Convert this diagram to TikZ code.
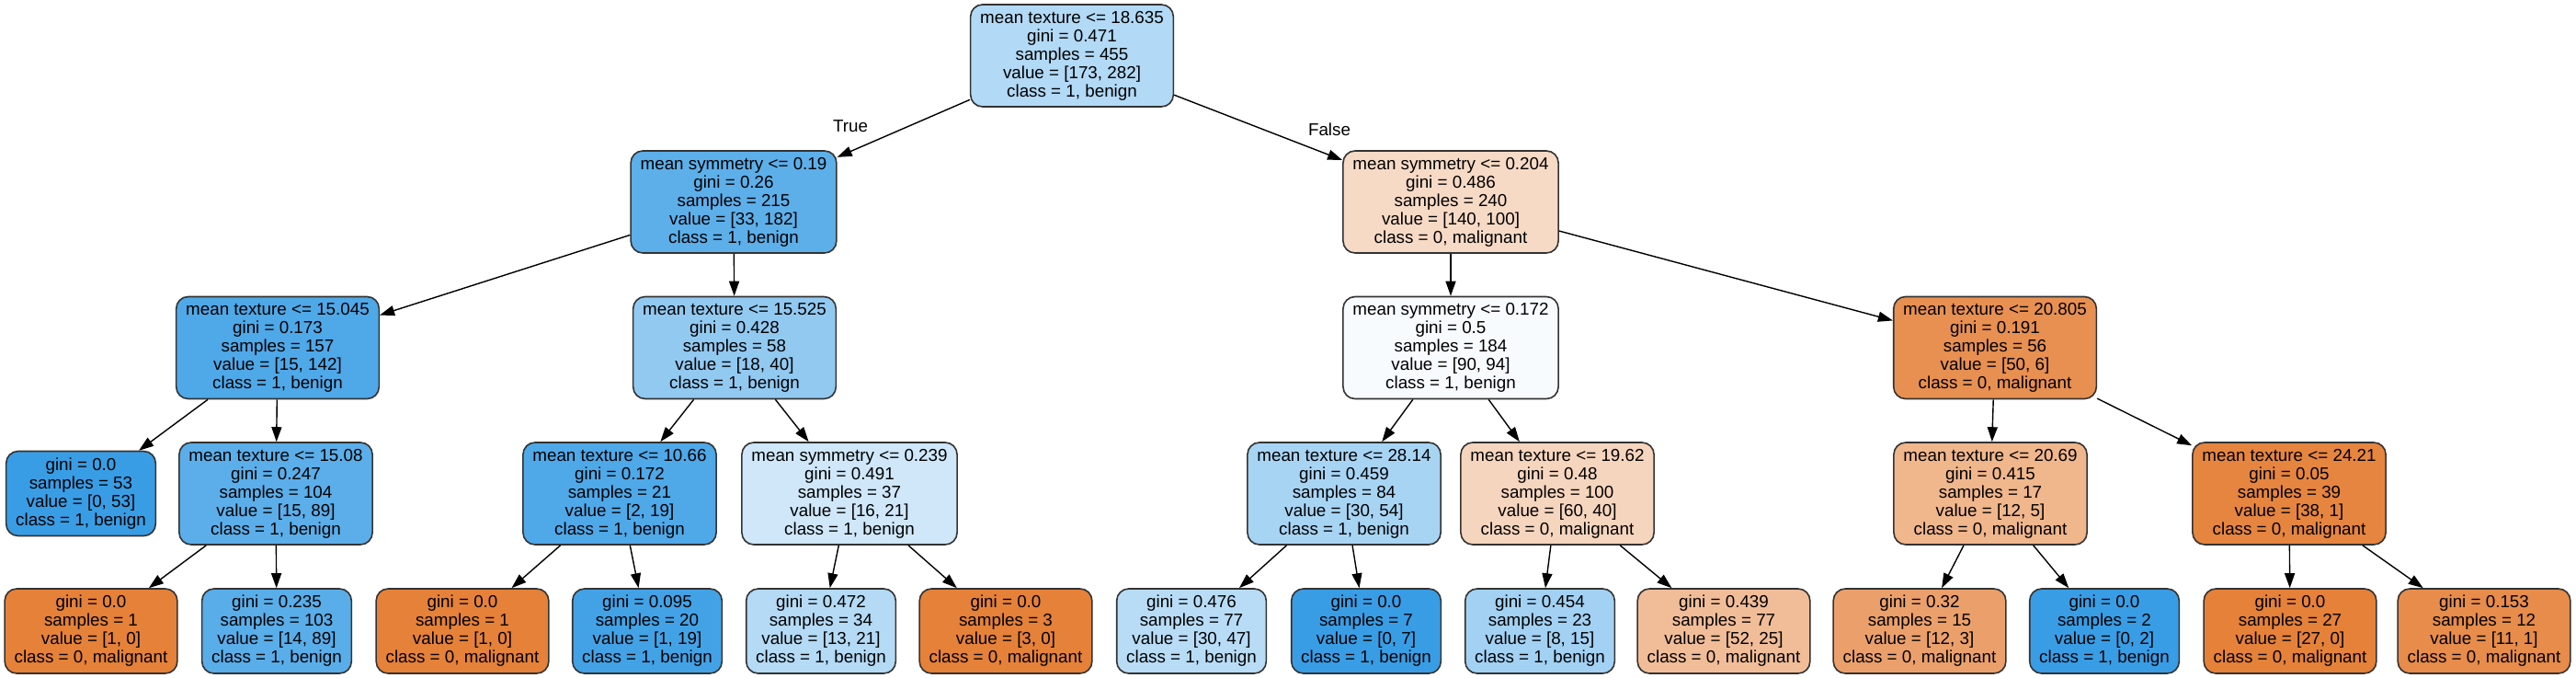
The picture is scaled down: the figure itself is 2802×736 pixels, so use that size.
\documentclass[tikz,border=0pt]{standalone}
\usepackage{fontspec}
\setmainfont{Liberation Sans}
\usetikzlibrary{arrows.meta}
\newcommand{\nodefont}{\fontsize{18.8}{20}\selectfont}
\definecolor{gvblue}{HTML}{399DE5}
\definecolor{gvorange}{HTML}{E58139}
\definecolor{gvborder}{HTML}{333333}
\tikzset{
  box/.style={draw=gvborder, line width=1.6pt, rounded corners=13pt, align=center,
    font=\nodefont, inner xsep=10.5pt, inner ysep=0pt},
  inner/.style={box, minimum height=111pt},
  leaf/.style={box, minimum height=92pt},
  edge/.style={line width=1.4pt, -{Triangle[length=16pt,width=11pt]}},
  elabel/.style={font=\nodefont, inner sep=0pt}
}
\begin{document}
\begin{tikzpicture}[x=1pt,y=-1pt]
\path[use as bounding box, fill=white] (0,0) rectangle (2802,736);
% level 0
\node[inner, fill=gvblue!39] (root) at (1166,60.5) {mean texture <= 18.635\\gini = 0.471\\samples = 455\\value = [173, 282]\\class = 1, benign};
% level 1
\node[inner, fill=gvblue!82] (n1) at (798,219.5) {mean symmetry <= 0.19\\gini = 0.26\\samples = 215\\value = [33, 182]\\class = 1, benign};
\node[inner, fill=gvorange!29] (n8) at (1578,219.5) {mean symmetry <= 0.204\\gini = 0.486\\samples = 240\\value = [140, 100]\\class = 0, malignant};
% level 2
\node[inner, fill=gvblue!89] (n2) at (302,378) {mean texture <= 15.045\\gini = 0.173\\samples = 157\\value = [15, 142]\\class = 1, benign};
\node[inner, fill=gvblue!55] (n5) at (799,378) {mean texture <= 15.525\\gini = 0.428\\samples = 58\\value = [18, 40]\\class = 1, benign};
\node[inner, fill=gvblue!4] (n9) at (1578,378) {mean symmetry <= 0.172\\gini = 0.5\\samples = 184\\value = [90, 94]\\class = 1, benign};
\node[inner, fill=gvorange!88] (n12) at (2170,378) {mean texture <= 20.805\\gini = 0.191\\samples = 56\\value = [50, 6]\\class = 0, malignant};
% level 3
\node[leaf, fill=gvblue!100] (n3) at (88,536.5) {gini = 0.0\\samples = 53\\value = [0, 53]\\class = 1, benign};
\node[inner, fill=gvblue!83] (n4) at (300,536.5) {mean texture <= 15.08\\gini = 0.247\\samples = 104\\value = [15, 89]\\class = 1, benign};
\node[inner, fill=gvblue!89] (n6) at (674,536.5) {mean texture <= 10.66\\gini = 0.172\\samples = 21\\value = [2, 19]\\class = 1, benign};
\node[inner, fill=gvblue!24] (n7) at (924,536.5) {mean symmetry <= 0.239\\gini = 0.491\\samples = 37\\value = [16, 21]\\class = 1, benign};
\node[inner, fill=gvblue!44] (n10) at (1462,536.5) {mean texture <= 28.14\\gini = 0.459\\samples = 84\\value = [30, 54]\\class = 1, benign};
\node[inner, fill=gvorange!33] (n11) at (1694,536.5) {mean texture <= 19.62\\gini = 0.48\\samples = 100\\value = [60, 40]\\class = 0, malignant};
\node[inner, fill=gvorange!58] (n13) at (2165,536.5) {mean texture <= 20.69\\gini = 0.415\\samples = 17\\value = [12, 5]\\class = 0, malignant};
\node[inner, fill=gvorange!97] (n14) at (2490,536.5) {mean texture <= 24.21\\gini = 0.05\\samples = 39\\value = [38, 1]\\class = 0, malignant};
% level 4
\node[leaf, fill=gvorange!100] (la) at (99,686) {gini = 0.0\\samples = 1\\value = [1, 0]\\class = 0, malignant};
\node[leaf, fill=gvblue!84] (lb) at (301,686) {gini = 0.235\\samples = 103\\value = [14, 89]\\class = 1, benign};
\node[leaf, fill=gvorange!100] (lc) at (503,686) {gini = 0.0\\samples = 1\\value = [1, 0]\\class = 0, malignant};
\node[leaf, fill=gvblue!95] (ld) at (704,686) {gini = 0.095\\samples = 20\\value = [1, 19]\\class = 1, benign};
\node[leaf, fill=gvblue!38] (le) at (893,686) {gini = 0.472\\samples = 34\\value = [13, 21]\\class = 1, benign};
\node[leaf, fill=gvorange!100] (lf) at (1094,686) {gini = 0.0\\samples = 3\\value = [3, 0]\\class = 0, malignant};
\node[leaf, fill=gvblue!36] (lg) at (1296,686) {gini = 0.476\\samples = 77\\value = [30, 47]\\class = 1, benign};
\node[leaf, fill=gvblue!100] (lh) at (1486,686) {gini = 0.0\\samples = 7\\value = [0, 7]\\class = 1, benign};
\node[leaf, fill=gvblue!47] (li) at (1675,686) {gini = 0.454\\samples = 23\\value = [8, 15]\\class = 1, benign};
\node[leaf, fill=gvorange!52] (lj) at (1875,686) {gini = 0.439\\samples = 77\\value = [52, 25]\\class = 0, malignant};
\node[leaf, fill=gvorange!75] (lk) at (2088,686) {gini = 0.32\\samples = 15\\value = [12, 3]\\class = 0, malignant};
\node[leaf, fill=gvblue!100] (ll) at (2289,686) {gini = 0.0\\samples = 2\\value = [0, 2]\\class = 1, benign};
\node[leaf, fill=gvorange!100] (lm) at (2491,686) {gini = 0.0\\samples = 27\\value = [27, 0]\\class = 0, malignant};
\node[leaf, fill=gvorange!91] (ln) at (2702,686) {gini = 0.153\\samples = 12\\value = [11, 1]\\class = 0, malignant};
% edges
\draw[edge] (root) -- (n1);
\draw[edge] (root) -- (n8);
\draw[edge] (n1) -- (n2);
\draw[edge] (n1) -- (n5);
\draw[edge] (n8) -- (n9);
\draw[edge] (n8) -- (n12);
\draw[edge] (n2) -- (n3);
\draw[edge] (n2) -- (n4);
\draw[edge] (n5) -- (n6);
\draw[edge] (n5) -- (n7);
\draw[edge] (n9) -- (n10);
\draw[edge] (n9) -- (n11);
\draw[edge] (n12) -- (n13);
\draw[edge] (n12) -- (n14);
\draw[edge] (n4) -- (la);
\draw[edge] (n4) -- (lb);
\draw[edge] (n6) -- (lc);
\draw[edge] (n6) -- (ld);
\draw[edge] (n7) -- (le);
\draw[edge] (n7) -- (lf);
\draw[edge] (n10) -- (lg);
\draw[edge] (n10) -- (lh);
\draw[edge] (n11) -- (li);
\draw[edge] (n11) -- (lj);
\draw[edge] (n13) -- (lk);
\draw[edge] (n13) -- (ll);
\draw[edge] (n14) -- (lm);
\draw[edge] (n14) -- (ln);
% edge labels
\node[elabel] (ltrue) at (925,137) {True};
\node[elabel] (lfalse) at (1446,141) {False};
\end{tikzpicture}
\end{document}
